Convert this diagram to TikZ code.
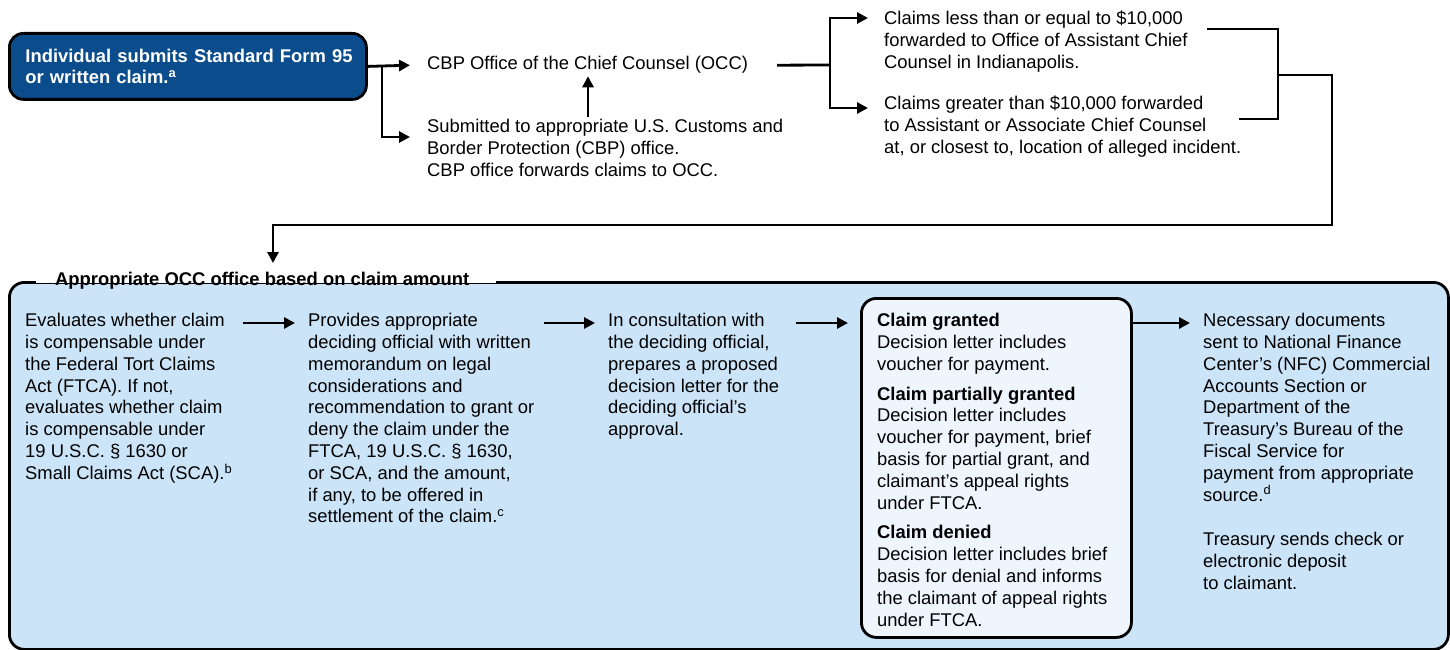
\documentclass[tikz,border=0pt]{standalone}
\usepackage{fontspec}
\setmainfont{Liberation Sans}
\usetikzlibrary{arrows.meta}
\definecolor{darkblue}{HTML}{0B4C8C}
\definecolor{lightblue}{HTML}{CCE4F8}
\definecolor{paleblue}{HTML}{EEF5FD}
\tikzset{
  txt/.style={anchor=north west, inner sep=0pt, align=left, font=\fontsize{18.4}{21.8}\selectfont},
  conn/.style={line width=2.8pt},
  arr/.style={conn, -{Triangle[length=11pt,width=11pt]}},
  startbox/.style={anchor=north west, fill=darkblue, draw=black, line width=2.8pt, rounded corners=14pt,
    text=white, align=left, font=\fontsize{18.4}{21.8}\selectfont\bfseries},
  bigbox/.style={anchor=north west, fill=lightblue, draw=black, line width=2.8pt, rounded corners=15pt, inner sep=0pt},
  decbox/.style={anchor=north west, fill=paleblue, draw=black, line width=2.8pt, rounded corners=15pt, inner sep=0pt}
}
\begin{document}
\begin{tikzpicture}[x=1pt,y=-1pt]
\useasboundingbox (0,0) rectangle (1450,650);

% big box
\node[bigbox, minimum width=1439pt, minimum height=367pt] (occbox) at (8,281) {};
\fill[white] (36,266) rectangle (496,282.7);
\node[txt, font=\fontsize{18.4}{21.8}\selectfont\bfseries] (title) at (55,270.3) {\strut Appropriate OCC office based on claim amount};

% top row
\node[startbox, minimum width=357pt, minimum height=66pt, text width=333pt, inner xsep=12pt] (start) at (8,32)
  {\hspace*{4pt}Individual submits Standard Form 95\\\hspace*{4pt}or written claim.\textsuperscript{a}};
\node[txt] (occ) at (427,54.1) {\strut CBP Office of the Chief Counsel (OCC)};
\node[txt] (sub) at (427,117.3) {\strut Submitted to appropriate U.S. Customs and\\Border Protection (CBP) office.\\CBP office forwards claims to OCC.};
\node[txt] (less) at (884,9.3) {\strut Claims less than or equal to \$10,000\\forwarded to Office of Assistant Chief\\Counsel in Indianapolis.};
\node[txt] (greater) at (884,94.3) {\strut Claims greater than \$10,000 forwarded\\to Assistant or Associate Chief Counsel\\at, or closest to, location of alleged incident.};

\coordinate (b1) at (382,65);
\coordinate (b2) at (830,65);
\draw[arr] (start.east) -- ([xshift=-17pt]occ.west);
\draw[arr] (b1) |- ([xshift=-17pt,yshift=-19.7pt]sub.north west);
\draw[arr] ([xshift=161pt]sub.north west) -- ([xshift=161pt]occ.south west);
\draw[conn] ([xshift=29pt]occ.east) -- (b2);
\draw[arr] (b2) |- ([xshift=-16pt,yshift=-8.7pt]less.north west);
\draw[arr] (b2) |- ([xshift=-16pt,yshift=-13.7pt]greater.north west);

\coordinate (bkt) at (1207,29);
\coordinate (bkb) at (1239,119);
\coordinate (bk) at (1278,75);
\coordinate (rt) at (1332,75);
\coordinate (rb) at (1332,225);
\coordinate (lb) at (273,225);
\coordinate (tgt) at (273,263);
\draw[conn] (bkt) -| (bkb -| bk) -- (bkb);
\draw[arr] (bk) -- (rt) -- (rb) -- (lb) -- (tgt);

% bottom row
\node[txt] (c1) at (25,311.3) {\strut Evaluates whether claim\\is compensable under\\the Federal Tort Claims\\Act (FTCA). If not,\\evaluates whether claim\\is compensable under\\19 U.S.C. \S\ 1630 or\\Small Claims Act (SCA).\textsuperscript{b}};
\node[txt] (c2) at (308,311.3) {\strut Provides appropriate\\deciding official with written\\memorandum on legal\\considerations and\\recommendation to grant or\\deny the claim under the\\FTCA, 19 U.S.C. \S\ 1630,\\or SCA, and the amount,\\if any, to be offered in\\settlement of the claim.\textsuperscript{c}};
\node[txt] (c3) at (608,311.3) {\strut In consultation with\\the deciding official,\\prepares a proposed\\decision letter for the\\deciding official’s\\approval.};
\node[decbox, minimum width=270pt, minimum height=339pt] (dec) at (860,297) {};
\node[txt] (c4) at (877,311.3) {\strut\textbf{Claim granted}\\Decision letter includes\\voucher for payment.\\[8pt]\textbf{Claim partially granted}\\Decision letter includes\\voucher for payment, brief\\basis for partial grant, and\\claimant’s appeal rights\\under FTCA.\\[8pt]\textbf{Claim denied}\\Decision letter includes brief\\basis for denial and informs\\the claimant of appeal rights\\under FTCA.};
\node[txt] (c5) at (1203,311.3) {\strut Necessary documents\\sent to National Finance\\Center’s (NFC) Commercial\\Accounts Section or\\Department of the\\Treasury’s Bureau of the\\Fiscal Service for\\payment from appropriate\\source.\textsuperscript{d}\\[23pt]Treasury sends check or\\electronic deposit\\to claimant.};

\draw[arr] ([xshift=218pt,yshift=-11.7pt]c1.north west) -- ([xshift=-13pt,yshift=-11.7pt]c2.north west);
\draw[arr] ([xshift=236pt,yshift=-11.7pt]c2.north west) -- ([xshift=-13pt,yshift=-11.7pt]c3.north west);
\draw[arr] ([xshift=188pt,yshift=-11.7pt]c3.north west) -- ([xshift=-12pt,yshift=-26pt]dec.north west);
\draw[arr] ([yshift=-26pt]dec.north east) -- ([xshift=-13pt,yshift=-11.7pt]c5.north west);
\end{tikzpicture}
\end{document}
